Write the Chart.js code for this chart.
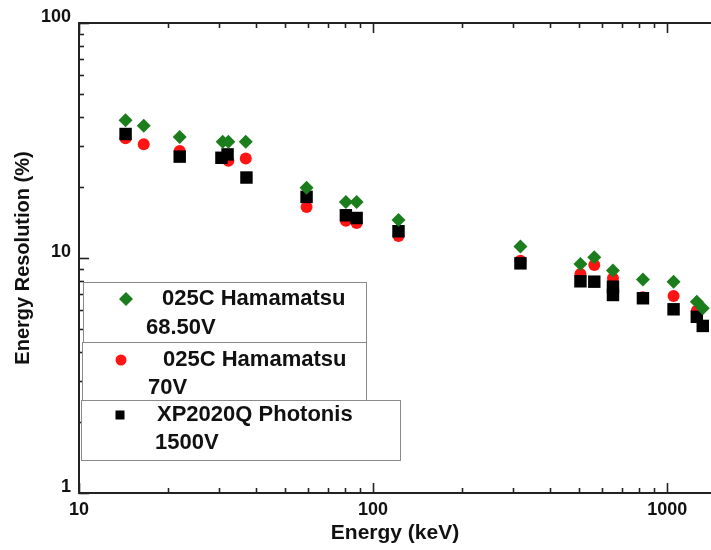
<!DOCTYPE html>
<html>
<head>
<meta charset="utf-8">
<script src="https://cdn.jsdelivr.net/npm/chart.js@4/dist/chart.umd.min.js"></script>
<style>
  html, body { margin: 0; padding: 0; background: #fff; overflow: hidden; }
  #wrap { width: 711px; height: 550px; }
</style>
</head>
<body>
<div id="wrap"><canvas id="c" width="711" height="550"></canvas></div>
<script>
// Energy resolution (%) versus gamma energy (keV), log-log
const xTickLabels = [10, 100, 1000];
const yTickLabels = [1, 10, 100];

const hamaLowEnergy = [14.4, 16.6, 22.0, 30.8, 32.2, 36.9, 59.4, 80.8, 87.9, 122, 317, 507, 565, 654, 827, 1051, 1261, 1321];
const hamaLowRes    = [38.6, 36.5, 32.7, 31.2, 31.2, 31.2, 19.9, 17.3, 17.3, 14.5, 11.2, 9.43, 10.07, 8.84, 8.11, 7.93, 6.52, 6.11];

const hamaHighEnergy = [14.4, 16.6, 22.0, 32.2, 36.9, 59.4, 80.8, 87.9, 122, 317, 507, 565, 654, 827, 1051, 1261];
const hamaHighRes    = [32.3, 30.5, 28.5, 25.9, 26.5, 16.5, 14.4, 14.1, 12.4, 9.74, 8.55, 9.33, 8.2, 6.8, 6.89, 5.97];

const photonisEnergy = [14.4, 22.0, 30.5, 32.0, 37.1, 59.4, 80.8, 87.9, 122, 317, 507, 565, 654, 654, 827, 1051, 1261, 1321];
const photonisRes    = [33.7, 27.0, 26.7, 27.6, 22.0, 18.2, 15.2, 14.8, 13.0, 9.49, 7.96, 7.93, 7.55, 6.96, 6.74, 6.05, 5.62, 5.14];

const legendLines = [
  ['025C Hamamatsu', '68.50V'],
  ['025C Hamamatsu', '70V'],
  ['XP2020Q Photonis', '1500V']
];

const GREEN = '#1b7d1b';
const RED = '#ff1414';
const BLACK = '#000000';
const FONT = '"Liberation Sans", Arial, sans-serif';

const toPoints = (xs, ys) => xs.map((v, i) => ({ x: v, y: ys[i] }));

// Ticks on the inside of the frame, plus the top frame line
const innerTicks = {
  id: 'innerTicks',
  afterDatasetsDraw(chart) {
    const { ctx, chartArea: a, scales: { x, y } } = chart;
    ctx.save();
    ctx.strokeStyle = '#222';
    ctx.lineWidth = 2;
    ctx.beginPath();
    ctx.moveTo(a.left - 1, a.top);
    ctx.lineTo(a.right, a.top);
    ctx.stroke();
    ctx.lineWidth = 1.6;
    const tick = (x0, y0, x1, y1) => { ctx.beginPath(); ctx.moveTo(x0, y0); ctx.lineTo(x1, y1); ctx.stroke(); };
    for (let d = 10; d <= 1000; d *= 10) {
      for (let m = 1; m <= 9; m++) {
        const v = d * m;
        if (v < x.min || v > x.max) continue;
        const px = Math.round(x.getPixelForValue(v)) + 0.5;
        const len = m === 1 ? 10 : 5;
        tick(px, a.bottom, px, a.bottom - len);
        tick(px, a.top, px, a.top + len);
      }
    }
    for (let d = 1; d <= 100; d *= 10) {
      for (let m = 1; m <= 9; m++) {
        const v = d * m;
        if (v < y.min || v > y.max) continue;
        const py = Math.round(y.getPixelForValue(v)) + 0.5;
        const len = m === 1 ? 10 : 5;
        tick(a.left, py, a.left + len, py);
      }
    }
    ctx.restore();
  }
};

// Boxed legend entries, each with a marker and a two-line label
const boxedLegend = {
  id: 'boxedLegend',
  afterDraw(chart) {
    const { ctx } = chart;
    const boxes = [
      { x: 83, y: 282, w: 283, h: 60, mx: 126, my: 299, t1: 162, t2: 146, l2: 328, style: 'diamond', color: GREEN },
      { x: 82, y: 342, w: 284, h: 58, mx: 121, my: 360, t1: 163, t2: 148, l2: 388, style: 'circle', color: RED },
      { x: 81, y: 400, w: 319, h: 60, mx: 120, my: 415, t1: 157, t2: 155, l2: 443, style: 'square', color: BLACK }
    ];
    ctx.save();
    boxes.forEach((b, i) => {
      ctx.fillStyle = '#fff';
      ctx.fillRect(b.x, b.y, b.w, b.h);
      ctx.strokeStyle = '#8a8a8a';
      ctx.lineWidth = 1;
      ctx.strokeRect(b.x + 0.5, b.y + 0.5, b.w, b.h);
      ctx.fillStyle = b.color;
      ctx.beginPath();
      if (b.style === 'diamond') {
        ctx.moveTo(b.mx, b.my - 7); ctx.lineTo(b.mx + 7, b.my); ctx.lineTo(b.mx, b.my + 7); ctx.lineTo(b.mx - 7, b.my);
        ctx.closePath();
      } else if (b.style === 'circle') {
        ctx.arc(b.mx, b.my, 5.5, 0, Math.PI * 2);
      } else {
        ctx.rect(b.mx - 4.5, b.my - 4.5, 9, 9);
      }
      ctx.fill();
      ctx.fillStyle = '#111';
      ctx.font = 'bold 22px ' + FONT;
      ctx.textBaseline = 'middle';
      ctx.textAlign = 'left';
      ctx.fillText(legendLines[i][0], b.t1, b.my);
      ctx.fillText(legendLines[i][1], b.t2, b.l2);
    });
    ctx.restore();
  }
};

new Chart(document.getElementById('c'), {
  type: 'scatter',
  data: {
    datasets: [
      { label: '025C Hamamatsu 68.50V', data: toPoints(hamaLowEnergy, hamaLowRes), pointStyle: 'rectRot', pointRadius: 7, backgroundColor: GREEN, borderColor: GREEN, borderWidth: 0 },
      { label: 'XP2020Q Photonis 1500V', data: toPoints(photonisEnergy, photonisRes), pointStyle: 'rect', pointRadius: 8.8, backgroundColor: BLACK, borderColor: BLACK, borderWidth: 0 },
      { label: '025C Hamamatsu 70V', data: toPoints(hamaHighEnergy, hamaHighRes), pointStyle: 'circle', pointRadius: 6, backgroundColor: RED, borderColor: RED, borderWidth: 0 }
    ]
  },
  options: {
    responsive: false,
    animation: false,
    events: [],
    layout: { autoPadding: false, padding: { top: 23, right: 0, left: 0, bottom: 0 } },
    plugins: { legend: { display: false }, tooltip: { enabled: false } },
    scales: {
      x: {
        type: 'logarithmic',
        min: 10,
        max: 1409,
        afterBuildTicks: s => { s.ticks = xTickLabels.map(v => ({ value: v, major: true })); },
        afterFit: s => { s.height = 57; s.paddingLeft = 0; s.paddingRight = 0; },
        ticks: { callback: v => String(v), font: { family: FONT, size: 18, weight: 'bold' }, color: '#111', padding: 6, maxRotation: 0, autoSkip: false },
        grid: { display: false, drawTicks: false },
        border: { display: true, color: '#222', width: 2 },
        title: { display: true, text: 'Energy (keV)', font: { family: FONT, size: 21, weight: 'bold' }, color: '#111', padding: { top: 0, bottom: 4 } }
      },
      y: {
        type: 'logarithmic',
        min: 1,
        max: 100,
        afterBuildTicks: s => { s.ticks = yTickLabels.map(v => ({ value: v, major: true })); },
        afterFit: s => { s.width = 79; s.paddingTop = 0; s.paddingBottom = 0; },
        ticks: { callback: v => String(v), font: { family: FONT, size: 18, weight: 'bold' }, color: '#111', padding: 8, labelOffset: -6, autoSkip: false },
        grid: { display: false, drawTicks: false },
        border: { display: true, color: '#222', width: 2 },
        title: { display: true, text: 'Energy Resolution (%)', font: { family: FONT, size: 20, weight: 'bold' }, color: '#111', padding: { top: 11, bottom: 0 } }
      }
    }
  },
  plugins: [innerTicks, boxedLegend]
});
</script>
</body>
</html>
